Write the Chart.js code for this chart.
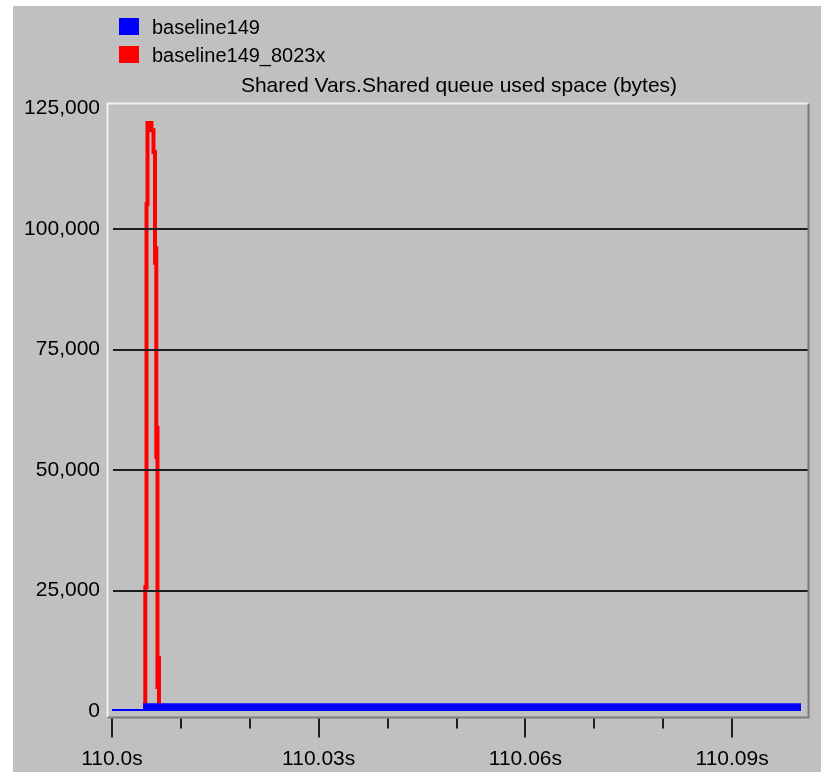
<!DOCTYPE html>
<html>
<head>
<meta charset="utf-8">
<script src="https://cdn.jsdelivr.net/npm/chart.js@4.4.1/dist/chart.umd.min.js"></script>
<style>
  html, body { margin: 0; padding: 0; background: #fff; }
  #panel { position: absolute; left: 13px; top: 6px; width: 808px; height: 766px; background: #c0c0c0; overflow: hidden; }
  #panel canvas { position: absolute; left: 0; top: 0; }
  .txt { position: absolute; font-family: "Liberation Sans", Arial, sans-serif; color: #000; white-space: nowrap; }
  .box { position: absolute; width: 20px; height: 17px; }
</style>
</head>
<body>
<div id="panel">
  <canvas id="chart" width="808" height="766"></canvas>
  <div id="legend"></div>
  <div id="title" class="txt"></div>
</div>
<script>
const seriesNames = ["baseline149", "baseline149_8023x"];
const seriesColors = ["#0000ff", "#ff0000"];
const chartTitle = "Shared Vars.Shared queue used space (bytes)";

// time is in ms after 110.0 s, values in bytes
const blueTime = [0, 4.8, 4.8, 100, 100];
const blueBytes = [0, 0, 1200, 1200, 0];

const redTime = [0, 4.83, 5.01, 5.15, 5.73, 6.02, 6.24, 6.36, 6.43, 6.53, 6.60, 6.75, 6.82, 100];
const redBytes = [0, 25700, 105200, 122000, 120500, 116000, 93000, 96000, 52700, 58700, 5000, 11000, 0, 0];

const xMajorTicks = [0, 30, 60, 90];
const xTickLabels = ["110.0s", "110.03s", "110.06s", "110.09s"];
const xMinorTicks = [10, 20, 40, 50, 70, 80];
const yTicks = [0, 25000, 50000, 75000, 100000, 125000];
const yGridLines = [25000, 50000, 75000, 100000];

// legend + title as plain text
const legend = document.getElementById("legend");
seriesNames.forEach((name, i) => {
    const box = document.createElement("div");
    box.className = "box";
    box.style.left = "106px";
    box.style.top = (12 + i * 28) + "px";
    box.style.background = seriesColors[i];
    legend.appendChild(box);
    const t = document.createElement("div");
    t.className = "txt";
    t.style.left = "139px";
    t.style.top = (9 + i * 28) + "px";
    t.style.fontSize = "20px";
    t.style.lineHeight = "24px";
    t.textContent = name;
    legend.appendChild(t);
});
const titleEl = document.getElementById("title");
titleEl.textContent = chartTitle;
titleEl.style.fontSize = "21px";
titleEl.style.lineHeight = "24px";
titleEl.style.top = "67px";
titleEl.style.left = "446px";
titleEl.style.transform = "translateX(-50%)";

const toPoints = (xs, ys) => xs.map((v, i) => ({ x: v, y: ys[i] }));

// frame, grid lines and x tick marks drawn against the scales
const framePlugin = {
    id: "frame",
    afterDatasetsDraw(chart) {
        const { ctx, chartArea: a, scales: { x, y } } = chart;
        const L = a.left - 4.5, T = a.top - 5, R = a.right + 7.5, B = a.bottom + 6.5;
        ctx.save();
        ctx.lineWidth = 2;
        ctx.strokeStyle = "#1e1e1e";
        yGridLines.forEach(v => {
            const py = Math.round(y.getPixelForValue(v));
            ctx.beginPath(); ctx.moveTo(a.left + 1, py); ctx.lineTo(R, py); ctx.stroke();
        });
        ctx.strokeStyle = "#f0f0f0";
        ctx.beginPath(); ctx.moveTo(L, B); ctx.lineTo(L, T); ctx.lineTo(R, T); ctx.stroke();
        ctx.strokeStyle = "#7a7a7a";
        ctx.beginPath(); ctx.moveTo(R, T); ctx.lineTo(R, B); ctx.lineTo(L, B); ctx.stroke();
        ctx.strokeStyle = "#1e1e1e";
        const tick = (v, len) => {
            const px = Math.round(x.getPixelForValue(v));
            ctx.beginPath(); ctx.moveTo(px, B + 1); ctx.lineTo(px, B + 1 + len); ctx.stroke();
        };
        xMajorTicks.forEach(v => tick(v, 19));
        xMinorTicks.forEach(v => tick(v, 10));
        ctx.restore();
    }
};

new Chart(document.getElementById("chart"), {
    type: "line",
    data: {
        datasets: [
            { label: seriesNames[0], data: toPoints(blueTime, blueBytes), borderColor: seriesColors[0], backgroundColor: seriesColors[0],
              borderWidth: 4, fill: "origin", pointRadius: 0, tension: 0 },
            { label: seriesNames[1], data: toPoints(redTime, redBytes), borderColor: seriesColors[1],
              borderWidth: 4, fill: false, pointRadius: 0, stepped: true }
        ]
    },
    options: {
        responsive: false,
        animation: false,
        devicePixelRatio: 1,
        layout: { padding: { top: 102.5, right: 20, left: 0, bottom: 0 } },
        plugins: { legend: { display: false }, title: { display: false }, tooltip: { enabled: false } },
        scales: {
            x: {
                type: "linear", min: 0, max: 100,
                afterBuildTicks: s => { s.ticks = xMajorTicks.map(v => ({ value: v })); },
                afterFit: s => { s.height = 61; },
                grid: { display: false, drawTicks: false },
                border: { display: false },
                ticks: { autoSkip: false, maxRotation: 0, padding: 36, color: "#000",
                         font: { family: "Liberation Sans", size: 21 },
                         callback: (v, i) => xTickLabels[i] }
            },
            y: {
                min: 0, max: 125000,
                afterBuildTicks: s => { s.ticks = yTicks.map(v => ({ value: v })); },
                afterFit: s => { s.width = 99; },
                grid: { display: false, drawTicks: false },
                border: { display: false },
                ticks: { padding: 12, color: "#000", font: { family: "Liberation Sans", size: 21 },
                         callback: v => v.toLocaleString("en-US") }
            }
        }
    },
    plugins: [framePlugin]
});
</script>
</body>
</html>
